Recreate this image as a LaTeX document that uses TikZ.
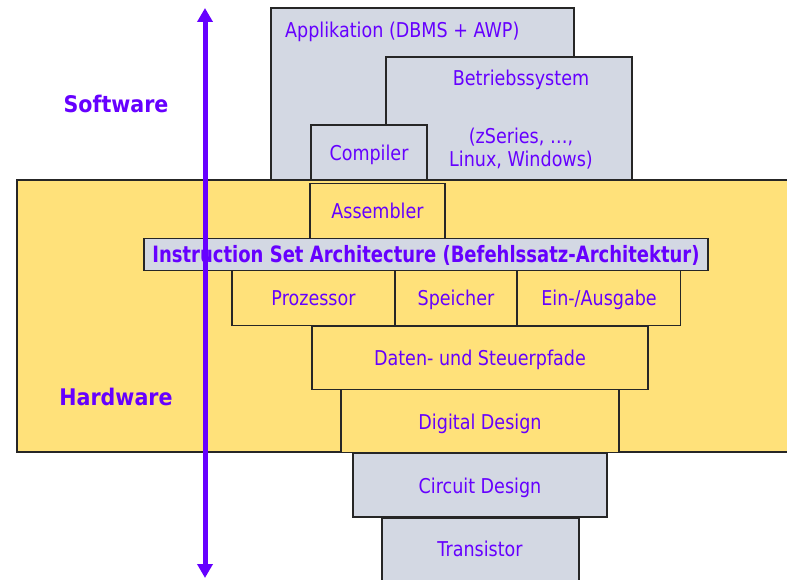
\documentclass[tikz,border=0pt]{standalone}
\usepackage{fontspec}
\setmainfont{DejaVu Sans}[FakeStretch=0.86]
\newfontfamily\isafont{DejaVu Sans}[FakeStretch=0.8]
\newfontfamily\sidefont{DejaVu Sans}[FakeStretch=0.9]
\usetikzlibrary{fit,arrows.meta}
\definecolor{hwyellow}{HTML}{FFE17A}
\definecolor{swgray}{HTML}{D3D8E3}
\definecolor{txtpurple}{HTML}{6600FF}
\tikzset{
  layer/.style={draw=black!85, line width=1.1pt, inner sep=0pt, outer sep=0pt},
  graybox/.style={layer, fill=swgray},
  yellowbox/.style={layer, fill=hwyellow},
  lbl/.style={text=txtpurple, inner sep=0pt, anchor=base, font=\fontsize{20.4}{24}\selectfont},
  sidelbl/.style={lbl, font=\sidefont\bfseries\fontsize{22.9}{27}\selectfont},
}
\begin{document}
\begin{tikzpicture}[x=1pt, y=-1pt]
\useasboundingbox (0,0) rectangle (787,580);

% software stack
\node[graybox, fit={(271,8) (574,180)}] (app) {};
\node[graybox, fit={(386,57) (632,180)}] (os) {};
\node[graybox, fit={(311,125) (427,180)}] (comp) {};
\node[lbl, anchor=base west] (appT) at (285,37.5) {Applikation (DBMS + AWP)};
\node[lbl] (osT) at (521,86) {Betriebssystem};
\node[lbl] (osT2) at (521,143.3) {(zSeries, …,};
\node[lbl] (osT3) at (521,166.7) {Linux, Windows)};
\node[lbl] (compT) at (369,161) {Compiler};

% hardware area
\node[yellowbox, fit={(17,180) (820,452)}] (hw) {};
\node[yellowbox, fit={(310,183.5) (445,238.5)}] (asm) {};
\node[lbl] (asmT) at (377.5,218.3) {Assembler};
\node[yellowbox, fit={(232,270.5) (395,325.5)}] (cpu) {};
\node[yellowbox, fit={(395,270.5) (517,325.5)}] (mem) {};
\node[yellowbox, fit={(517,270.5) (680.5,325.5)}] (io) {};
\node[lbl] (cpuT) at (313.5,305.7) {Prozessor};
\node[lbl] (memT) at (456,305.7) {Speicher};
\node[lbl] (ioT) at (599,305.7) {Ein-/Ausgabe};
\node[yellowbox, fit={(312,326.7) (648,389.3)}] (path) {};
\node[lbl] (pathT) at (480,365.7) {Daten- und Steuerpfade};
\node[yellowbox, fit={(341,389.3) (619,452.5)}] (dig) {};
\node[lbl] (digT) at (480,429) {Digital Design};

% instruction set architecture bar
\node[graybox, fit={(144,238.5) (708,270.5)}] (isa) {};
\node[lbl, font=\isafont\bfseries\fontsize{22.5}{26}\selectfont] (isaT) at (426,262.3) {Instruction Set Architecture (Befehlssatz-Architektur)};

% lower levels
\node[graybox, fit={(353,453) (607,517)}] (circ) {};
\node[lbl] (circT) at (480,493.3) {Circuit Design};
\node[graybox, fit={(382,518) (579,600)}] (trans) {};
\node[lbl] (transT) at (480,556.7) {Transistor};

% side labels
\node[sidelbl] (sw) at (116,113) {Software};
\node[sidelbl] (hwT) at (116,405) {Hardware};

% abstraction arrow
\coordinate (arrTop) at (205,8);
\coordinate (arrBot) at (205,578);
\draw[txtpurple, line width=5pt, {Triangle[width=15pt,length=14pt]}-{Triangle[width=15pt,length=14pt]}] (arrTop) -- (arrBot);
\end{tikzpicture}
\end{document}
